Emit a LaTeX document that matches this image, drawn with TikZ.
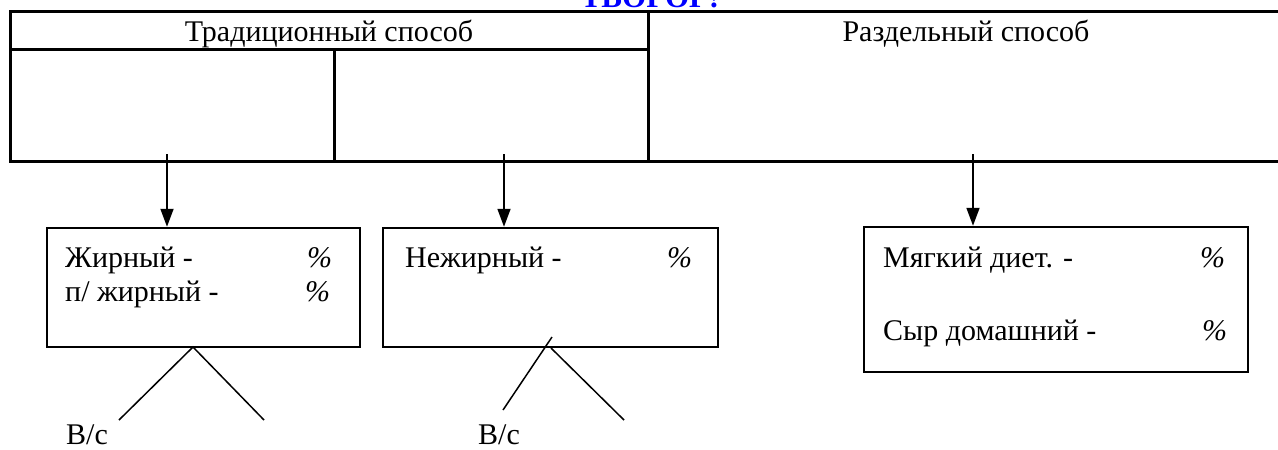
\documentclass[tikz,border=0pt]{standalone}
\usepackage{fontspec}
\setmainfont{Liberation Serif}
\usetikzlibrary{arrows.meta}
\definecolor{titleblue}{RGB}{0,0,255}
\begin{document}
\begin{tikzpicture}[x=1pt,y=-1pt,
  tbl/.style={line width=3pt},
  box/.style={draw,line width=2.5pt,rectangle,inner sep=0pt},
  arr/.style={line width=1.8pt,-{Triangle[width=13pt,length=18pt]}},
  leg/.style={line width=1.5pt},
  txt/.style={font=\fontsize{30}{36}\selectfont,inner sep=0pt,anchor=base west},
  hdr/.style={font=\fontsize{30}{36}\selectfont,inner sep=0pt,anchor=base},
  pct/.style={font=\fontsize{30}{36}\selectfont\itshape,inner sep=0pt,anchor=base west}]
\useasboundingbox (0,0) rectangle (1278,450);
% title (mostly cut off at the top, as in the reference)
\node[font=\fontsize{31}{36}\selectfont\bfseries,text=titleblue,anchor=base,inner sep=0pt] (title) at (650,7) {ТВОРОГ!};
% table
\draw[tbl] (1278,11) -- (10,11) -- (10,161) -- (1278,161);
\draw[tbl] (10,49) -- (648,49);
\draw[tbl] (648,11) -- (648,161);
\draw[tbl] (334,49) -- (334,161);
\node[hdr] (trad) at (329,41) {Традиционный способ};
\node[hdr] (razd) at (966,41) {Раздельный способ};
% boxes
\node[box,minimum width=313pt,minimum height=119pt] (b1) at (203.5,287.5) {};
\node[box,minimum width=335pt,minimum height=119pt] (b2) at (550.5,287.5) {};
\node[box,minimum width=384pt,minimum height=145pt] (b3) at (1056,299.5) {};
% box texts
\node[txt] (t11) at (65,267) {Жирный -};
\node[pct] (p11) at (307,267) {\%};
\node[txt] (t12) at (65,301) {п/ жирный -};
\node[pct] (p12) at (305,301) {\%};
\node[txt] (t21) at (405,267) {Нежирный -};
\node[pct] (p21) at (667,267) {\%};
\node[txt] (t31) at (883,267) {Мягкий диет. -};
\node[pct] (p31) at (1200,267) {\%};
\node[txt] (t32) at (883,340) {Сыр домашний -};
\node[pct] (p32) at (1202,340) {\%};
% arrows
\coordinate (s1) at (167,154);
\coordinate (s2) at (504,154);
\coordinate (s3) at (973,154);
\draw[arr] (s1) -- (s1 |- b1.north);
\draw[arr] (s2) -- (s2 |- b2.north);
\draw[arr] (s3) -- (s3 |- b3.north);
% legs
\coordinate (a1) at (193,347);
\coordinate (l1) at (119,420);
\coordinate (r1) at (264,420);
\draw[leg] (l1) -- (a1) -- (r1);
\coordinate (l2) at (503,410);
\coordinate (l2e) at (552,337);
\coordinate (a2) at (551,348);
\coordinate (r2) at (624,420);
\draw[leg] (l2) -- (l2e);
\draw[leg] (a2) -- (r2);
\node[txt] (v1) at (66,444) {В/с};
\node[txt] (v2) at (478,444) {В/с};
\end{tikzpicture}
\end{document}
